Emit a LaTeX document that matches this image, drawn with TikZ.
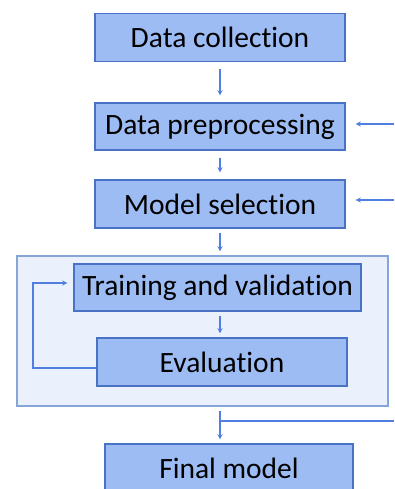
\documentclass[tikz,border=0pt]{standalone}
\usepackage{fontspec}
\setmainfont{Carlito}[Ligatures=NoCommon]
\usepackage{tikz}
\usetikzlibrary{calc, arrows}
\definecolor{boxblue}{HTML}{9DBCF3}
\definecolor{edgeblue}{HTML}{4A72C4}
\definecolor{paleblue}{HTML}{EAF1FC}
\definecolor{paleedge}{HTML}{86A6DA}
\definecolor{linkblue}{HTML}{4F7FE0}
\tikzstyle{arrow}     = [line width=1.3pt,->,>=stealth,color=linkblue]

\begin{document}
\begin{tikzpicture}[x=1pt, y=-1pt,
    step box/.style={draw=edgeblue, line width=1.2pt, fill=boxblue,
      minimum width=250pt, minimum height=48pt, inner sep=0pt,
      font=\fontsize{29.5}{31}\selectfont, text=black},
    group box/.style={draw=paleedge, line width=1.2pt, fill=paleblue,
      minimum width=371pt, minimum height=150pt, inner sep=0pt},
    gap/.style={shorten <=7pt, shorten >=7pt},
    ]
    \clip (0,0) rectangle (394,489);
    \fill[white] (0,0) rectangle (394,489);
    \node[step box] (collect) at (220,37.5) {Data collection};
    \node[step box, minimum height=47pt] (prep) at (220,126.5) {Data preprocessing};
    \node[step box] (select) at (220,204) {Model selection};
    \node[group box] (loop) at (202.5,331) {};
    \node[step box, minimum width=287pt, minimum height=47pt] (train) at (217.5,287.5) {Training and validation};
    \node[step box] (eval) at (222,362) {Evaluation};
    \node[step box, minimum width=248pt] (final) at (229,468) {Final model};
    \coordinate (prep in) at (394,124);
    \coordinate (select in) at (394,200);
    \coordinate (split) at (220,421);
    \coordinate (split out) at (394,421);
    \coordinate (back) at (33,283);

    \draw[arrow, gap] (collect) -- (prep);
    \draw[arrow, gap] (prep) -- (select);
    \draw[arrow, shorten <=4pt, shorten >=4pt] (select.south) -- (loop.north -| select);
    \draw[arrow, shorten <=4pt, shorten >=4pt] (loop.south -| collect) -- (final.north -| collect);
    \draw[arrow, shorten <=4pt, shorten >=4pt] (train.south -| collect) -- (eval.north -| collect);
    \draw[arrow, shorten >=10pt] (prep in) -- (prep in -| prep.east);
    \draw[arrow, shorten >=10pt] (select in) -- (select in -| select.east);
    \draw[line width=1.3pt, linkblue] (split) -- (split out);
    \draw[arrow, shorten >=6pt] ([yshift=-6pt]eval.west) -| (back) -- (back -| train.west);
  \end{tikzpicture}
\end{document}
